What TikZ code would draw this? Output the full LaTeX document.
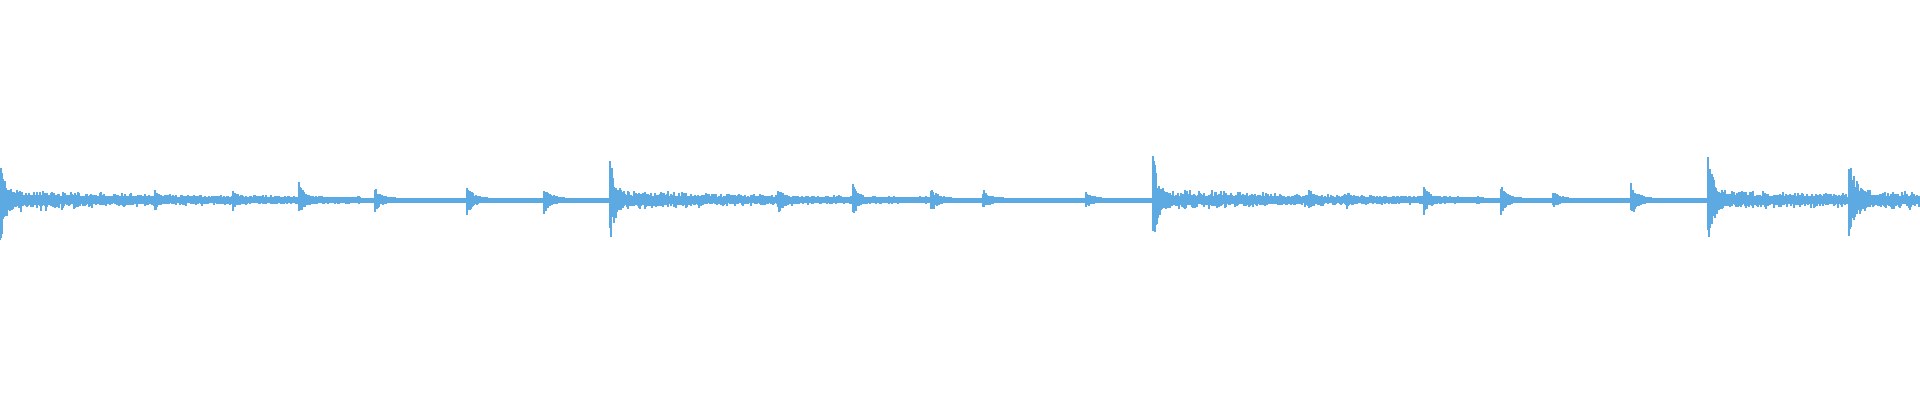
\documentclass[tikz,border=0pt]{standalone}
\definecolor{wavecol}{RGB}{93,169,225}
\begin{document}
\begin{tikzpicture}[%
x=1pt, y=1pt,
wave/.style={color=wavecol, line width=1.05pt},
]
\useasboundingbox (0,0) rectangle (1920,400);
\pgfmathsetseed{42}
%% base line;
\fill [wavecol] (0,197.5) rectangle (1920,202.5);
%% noisy bodies after strong hits;
\foreach \xo/\A/\tau/\len in {0/11/180/360, 610/10/160/330, 1153/11/170/330, 1708/11/200/140, 1849/10/250/70} {
  \foreach \d in {0,...,\len} {
    \pgfmathsetmacro\h{\A*exp(-\d/\tau)*(0.15+0.85*rnd*rnd)+2.5}
    \pgfmathsetmacro\g{\A*exp(-\d/\tau)*(0.15+0.85*rnd*rnd)+2.5}
    \draw [wave] (\xo+\d,200-\h) -- (\xo+\d,200+\g);
  }
}
%% hits;
\foreach \xo/\A/\tau/\len in {0/44/7/30, 610/40/7/30, 1153/44/7/30, 1708/46/7/30, 1849/40/9/30,
  155/9/5/20, 233/10/5/20, 299/16/6/25, 375/11/5/20, 467/13/6/20, 544/12/6/20,
  778/12/6/20, 853/14/6/20, 931/11/6/20, 983/9/6/20, 1086/6/6/15,
  1309/9/6/20, 1347/7/6/15, 1424/14/6/20, 1501/13/6/20, 1553/7/6/15, 1631/15/6/20} {
  \foreach \d in {0,...,\len} {
    \pgfmathsetmacro\h{\A*exp(-\d/\tau)*(0.35+0.65*rnd)+2.5}
    \pgfmathsetmacro\g{\A*exp(-\d/\tau)*(0.35+0.65*rnd)+2.5}
    \draw [wave] (\xo+\d,200-\h) -- (\xo+\d,200+\g);
  }
}
\end{tikzpicture}
\end{document}
